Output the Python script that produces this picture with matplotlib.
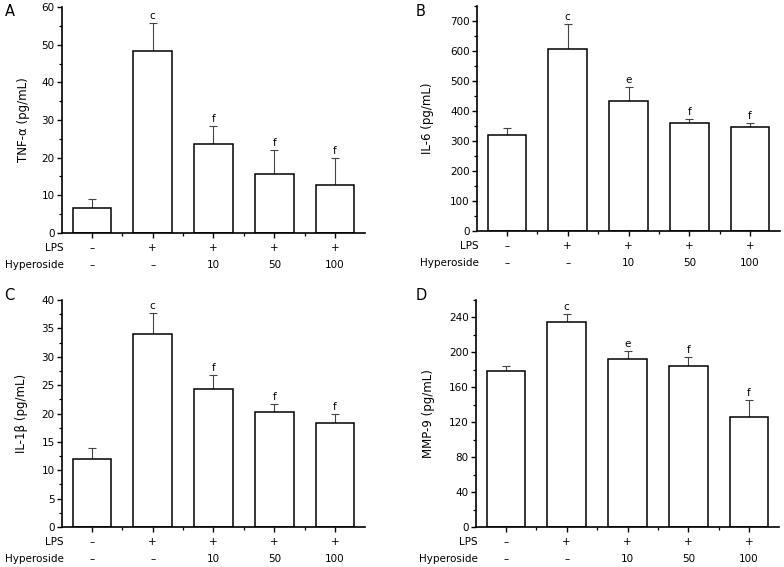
import numpy as np
import matplotlib.pyplot as plt
from matplotlib.ticker import MultipleLocator, FixedLocator

plt.rcParams['font.family'] = ['DejaVu Sans']

lps = ['–', '+', '+', '+', '+']
hyperoside = ['–', '–', '10', '50', '100']

tnf = [6.7, 48.4, 23.6, 15.7, 12.8]
tnf_err = [2.3, 7.4, 4.9, 6.3, 7.2]
tnf_sig = ['', 'c', 'f', 'f', 'f']

il6 = [319, 607, 431, 360, 346]
il6_err = [24, 82, 49, 12, 12]
il6_sig = ['', 'c', 'e', 'f', 'f']

il1b = [11.9, 34.0, 24.4, 20.3, 18.4]
il1b_err = [2.1, 3.7, 2.4, 1.4, 1.5]
il1b_sig = ['', 'c', 'f', 'f', 'f']

mmp9 = [178.5, 234.5, 192.5, 184.0, 125.5]
mmp9_err = [5.8, 9.5, 8.8, 11.0, 20.0]
mmp9_sig = ['', 'c', 'e', 'f', 'f']

W, H = 784, 567
fig = plt.figure(figsize=(W / 100, H / 100), dpi=100)


def px_axes(left, top, right, bottom):
    return fig.add_axes([left / W, 1 - bottom / H, (right - left) / W, (bottom - top) / H])


def panel(ax, vals, errs, sigs, ylabel, ymax, major, minor, letter, lx, ly, labx):
    x = np.arange(len(vals))
    ax.bar(x, vals, width=0.64, color='white', edgecolor='black', linewidth=1.1, zorder=2)
    ax.errorbar(x, vals, yerr=[np.zeros(len(errs)), errs], fmt='none', ecolor='#444444',
                elinewidth=0.8, capsize=3, capthick=0.8, zorder=1)
    for xi, v, e, s in zip(x, vals, errs, sigs):
        if s:
            ax.annotate(s, (xi, v + e), xytext=(0, 1.5), textcoords='offset points',
                        ha='center', va='bottom', fontsize=7.5)
    ax.set_xlim(-0.5, 4.5)
    ax.set_ylim(0, ymax)
    for sp in ['top', 'right']:
        ax.spines[sp].set_visible(False)
    for sp in ['left', 'bottom']:
        ax.spines[sp].set_linewidth(1.2)
    ax.set_xticks(x)
    ax.set_xticklabels([])
    ax.xaxis.set_minor_locator(FixedLocator([0.5, 1.5, 2.5, 3.5]))
    ax.yaxis.set_major_locator(MultipleLocator(major))
    ax.yaxis.set_minor_locator(MultipleLocator(minor))
    ax.tick_params(which='major', direction='out', length=3.5, width=1.0, labelsize=7.5, pad=1.5)
    ax.tick_params(which='minor', direction='out', length=2, width=0.9)
    ax.set_ylabel(ylabel, fontsize=8.5)
    ax.yaxis.set_label_coords(labx, 0.5)
    for xi, a, b in zip(x, lps, hyperoside):
        ax.annotate(a, (xi, 0), xycoords=('data', 'axes fraction'), xytext=(0, -15),
                    textcoords='offset pixels', ha='center', va='center', fontsize=7.5)
        ax.annotate(b, (xi, 0), xycoords=('data', 'axes fraction'), xytext=(0, -32),
                    textcoords='offset pixels', ha='center', va='center', fontsize=7.5)
    ax.annotate('LPS', (0, 0), xycoords='axes fraction', xytext=(2, -15),
                textcoords='offset pixels', ha='right', va='center', fontsize=7.5)
    ax.annotate('Hyperoside', (0, 0), xycoords='axes fraction', xytext=(2, -32),
                textcoords='offset pixels', ha='right', va='center', fontsize=7.5)
    fig.text(lx / W, 1 - ly / H, letter, fontsize=10.5, ha='center', va='center')


axA = px_axes(61.6, 7, 365.4, 233)
panel(axA, tnf, tnf_err, tnf_sig, 'TNF-α (pg/mL)', 60, 10, 5, 'A', 10, 11, -0.105)

axB = px_axes(476.6, 5.7, 780.4, 230.7)
panel(axB, il6, il6_err, il6_sig, 'IL-6 (pg/mL)', 750, 100, 50, 'B', 421, 11, -0.14)

axC = px_axes(61.6, 300, 365.4, 527)
panel(axC, il1b, il1b_err, il1b_sig, 'IL-1β (pg/mL)', 40, 5, 2.5, 'C', 9, 295, -0.11)

axD = px_axes(475.6, 300, 779.4, 527)
panel(axD, mmp9, mmp9_err, mmp9_sig, 'MMP-9 (pg/mL)', 260, 40, 20, 'D', 421, 296, -0.133)

fig.savefig('out.png', dpi=100)
